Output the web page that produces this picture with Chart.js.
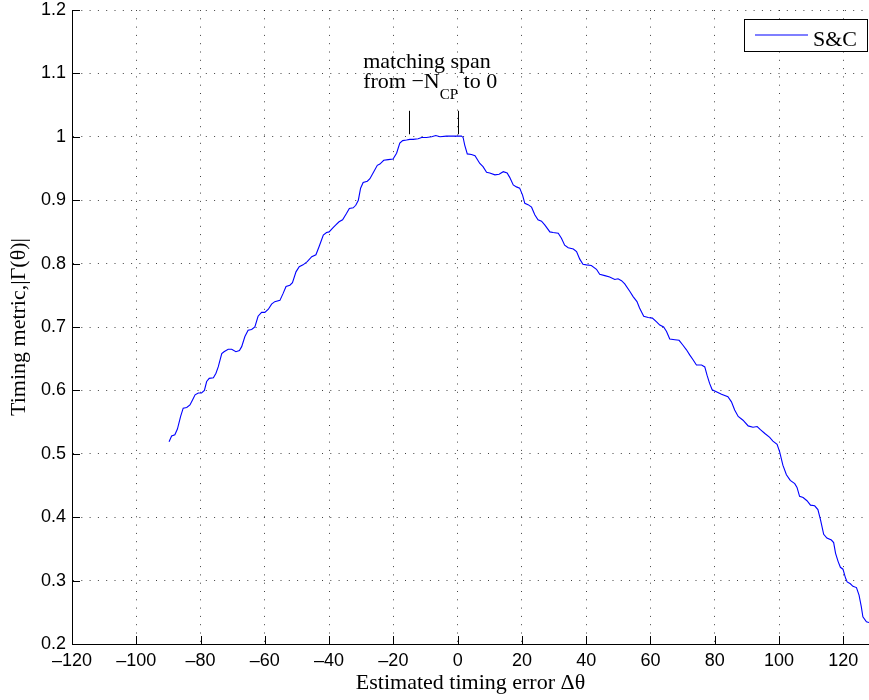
<!DOCTYPE html>
<html>
<head>
<meta charset="utf-8">
<title>Timing metric</title>
<script src="https://cdn.jsdelivr.net/npm/chart.js@4.4.1/dist/chart.umd.min.js"></script>
<style>
  html, body { margin: 0; padding: 0; background: #fff; }
  canvas { display: block; }
</style>
</head>
<body>
<canvas id="timing-chart" width="869" height="700"></canvas>
<script>
// timing error offsets and the S&C metric at each one
const errorX = [
  -89.8, -89.0, -88.0, -87.2, -86.2, -85.4, -84.3, -83.3, -82.5, -81.7,
  -80.7, -79.7, -78.8, -78.1, -77.3, -76.0, -75.2, -74.5, -73.4, -72.7,
  -71.4, -70.3, -69.0, -67.9, -67.2, -66.2, -65.2, -64.1, -63.1, -62.1,
  -61.0, -60.0, -58.9, -57.9, -56.9, -55.3, -54.3, -53.4, -52.2, -51.4,
  -50.3, -49.3, -48.1, -46.8, -45.4, -44.1, -43.1, -41.8, -40.8, -40.0,
  -38.9, -37.9, -36.9, -35.8, -34.6, -33.7, -32.5, -31.7, -30.9, -30.2,
  -29.4, -28.1, -27.3, -26.1, -25.0, -24.2, -23.0, -21.6, -20.1, -19.0,
  -18.0, -17.1, -15.9, -14.9, -13.8, -12.3, -11.2, -9.7, -8.1, -6.8,
  -5.5, -3.5, -1.4, 0.0, 1.2, 1.7, 2.2, 3.0, 4.3, 5.4,
  6.9, 7.9, 9.0, 10.0, 11.6, 12.9, 14.2, 15.4, 16.2, 17.3,
  18.3, 19.3, 20.2, 20.9, 21.9, 23.0, 24.0, 25.0, 26.1, 27.1,
  28.7, 29.7, 31.3, 32.3, 33.3, 34.4, 36.0, 37.0, 38.0, 39.0,
  40.1, 41.6, 43.2, 44.2, 45.8, 47.3, 48.9, 49.9, 51.0, 52.0,
  53.6, 54.6, 55.8, 56.6, 57.9, 59.3, 60.6, 61.9, 62.9, 64.1,
  65.0, 66.0, 67.6, 68.9, 70.0, 71.2, 72.2, 73.3, 74.3, 75.9,
  76.9, 77.6, 78.4, 79.2, 80.5, 82.1, 84.1, 85.2, 86.2, 87.3,
  88.8, 90.4, 91.9, 93.2, 94.2, 95.6, 97.1, 98.1, 99.4, 100.2,
  101.2, 102.3, 103.5, 104.9, 105.6, 106.4, 107.5, 108.7, 109.8, 111.1,
  112.1, 112.9, 113.9, 114.9, 116.3, 117.0, 117.6, 118.4, 119.1, 119.9,
  120.7, 121.2, 122.2, 123.0, 124.1, 124.9, 125.6, 126.1, 127.2, 128.0
];
const metricY = [
  0.519, 0.528, 0.530, 0.539, 0.559, 0.572, 0.573, 0.577, 0.585, 0.593,
  0.596, 0.596, 0.600, 0.614, 0.619, 0.620, 0.627, 0.637, 0.658, 0.661,
  0.665, 0.665, 0.661, 0.663, 0.669, 0.685, 0.695, 0.696, 0.700, 0.717,
  0.723, 0.723, 0.728, 0.736, 0.740, 0.742, 0.753, 0.764, 0.766, 0.770,
  0.787, 0.795, 0.798, 0.803, 0.811, 0.814, 0.827, 0.845, 0.849, 0.850,
  0.856, 0.861, 0.866, 0.869, 0.879, 0.887, 0.888, 0.892, 0.900, 0.919,
  0.928, 0.930, 0.934, 0.945, 0.955, 0.957, 0.963, 0.964, 0.965, 0.974,
  0.990, 0.994, 0.995, 0.996, 0.996, 0.997, 0.999, 0.999, 1.000, 1.002,
  1.000, 1.001, 1.001, 1.001, 1.001, 0.999, 0.987, 0.973, 0.972, 0.970,
  0.958, 0.953, 0.944, 0.943, 0.940, 0.941, 0.945, 0.943, 0.936, 0.924,
  0.921, 0.919, 0.908, 0.895, 0.893, 0.889, 0.877, 0.869, 0.867, 0.861,
  0.850, 0.849, 0.848, 0.840, 0.829, 0.825, 0.823, 0.819, 0.807, 0.799,
  0.798, 0.797, 0.791, 0.783, 0.781, 0.779, 0.775, 0.776, 0.773, 0.768,
  0.756, 0.748, 0.740, 0.730, 0.717, 0.715, 0.714, 0.708, 0.703, 0.700,
  0.693, 0.681, 0.680, 0.679, 0.672, 0.664, 0.656, 0.648, 0.640, 0.640,
  0.637, 0.624, 0.611, 0.601, 0.598, 0.594, 0.590, 0.582, 0.569, 0.559,
  0.553, 0.544, 0.542, 0.543, 0.538, 0.532, 0.526, 0.520, 0.515, 0.503,
  0.482, 0.467, 0.458, 0.453, 0.447, 0.433, 0.431, 0.426, 0.419, 0.418,
  0.412, 0.396, 0.373, 0.367, 0.364, 0.360, 0.343, 0.330, 0.321, 0.318,
  0.304, 0.298, 0.295, 0.291, 0.289, 0.277, 0.259, 0.243, 0.235, 0.234
];
const xTickValues = [-120, -100, -80, -60, -40, -20, 0, 20, 40, 60, 80, 100, 120];
const yTickValues = [0.2, 0.3, 0.4, 0.5, 0.6, 0.7, 0.8, 0.9, 1, 1.1, 1.2];
const seriesLabel = 'S&C';
const lineColor = '#0000ff';
// cyclic prefix matching span, marked above the plateau
const spanStart = -15;
const spanEnd = 0;

const SANS = '"Liberation Sans", Arial, sans-serif';
const SERIF = '"Liberation Serif", "Times New Roman", serif';

// matlab style ticks pointing into the axes
const inwardTicks = {
  id: 'inwardTicks',
  afterDraw(chart) {
    const { ctx, chartArea, scales } = chart;
    ctx.save();
    ctx.strokeStyle = '#000';
    ctx.lineWidth = 1;
    ctx.beginPath();
    scales.x.ticks.forEach(t => {
      const px = Math.round(scales.x.getPixelForValue(t.value)) + 0.5;
      ctx.moveTo(px, chartArea.bottom);
      ctx.lineTo(px, chartArea.bottom - 8);
    });
    scales.y.ticks.forEach(t => {
      const py = Math.round(scales.y.getPixelForValue(t.value)) + 0.5;
      ctx.moveTo(chartArea.left, py);
      ctx.lineTo(chartArea.left + 8, py);
    });
    ctx.stroke();
    ctx.restore();
  }
};

const spanNote = {
  id: 'spanNote',
  afterDatasetsDraw(chart) {
    const { ctx, scales: { x, y } } = chart;
    ctx.save();
    ctx.strokeStyle = '#000';
    ctx.lineWidth = 1;
    [spanStart, spanEnd].forEach(v => {
      const px = Math.round(x.getPixelForValue(v)) + 0.5;
      ctx.beginPath();
      ctx.moveTo(px, y.getPixelForValue(1.041));
      ctx.lineTo(px, y.getPixelForValue(1.004));
      ctx.stroke();
    });
    ctx.fillStyle = '#000';
    ctx.textBaseline = 'alphabetic';
    ctx.font = '22px ' + SERIF;
    const tx = x.getPixelForValue(-29.4);
    ctx.fillText('matching span', tx, y.getPixelForValue(1.108));
    const base = y.getPixelForValue(1.077);
    let cx = tx;
    ctx.fillText('from \u2212N', cx, base);
    cx += ctx.measureText('from \u2212N').width;
    ctx.font = '15px ' + SERIF;
    ctx.fillText('CP', cx, base + 10.6);
    cx += ctx.measureText('CP').width;
    ctx.font = '22px ' + SERIF;
    ctx.fillText(' to 0', cx, base);
    ctx.restore();
  }
};

const legendBox = {
  id: 'legendBox',
  afterDraw(chart) {
    const { ctx, chartArea } = chart;
    const w = 123, h = 32;
    const bx = chartArea.right - 2 - w;
    const by = chartArea.top + 9;
    ctx.save();
    ctx.setLineDash([]);
    ctx.fillStyle = '#fff';
    ctx.fillRect(bx, by, w, h);
    ctx.strokeStyle = '#000';
    ctx.lineWidth = 1;
    ctx.strokeRect(bx + 0.5, by + 0.5, w, h);
    // sample of the series line
    ctx.beginPath();
    ctx.strokeStyle = lineColor;
    ctx.lineWidth = 1.2;
    ctx.moveTo(bx + 11, by + 16);
    ctx.lineTo(bx + 64, by + 16);
    ctx.stroke();
    ctx.fillStyle = '#000';
    ctx.font = '22px ' + SERIF;
    ctx.textBaseline = 'alphabetic';
    ctx.fillText(seriesLabel, bx + 69, by + 26.5);
    ctx.restore();
  }
};

const gridStyle = { color: 'rgba(0,0,0,0.75)', lineWidth: 1, drawTicks: false };
const borderStyle = { display: true, color: '#000', width: 1, dash: [1, 7.3] };

// fixed axis boxes so the plot area sits where it should
const fitX = s => { s.height = 56; s.paddingLeft = 0; s.paddingRight = 0; };
const fitY = s => { s.width = 72; s.paddingTop = 0; s.paddingBottom = 0; };

const ctx = document.getElementById('timing-chart');
const chart = new Chart(ctx, {
  type: 'scatter',
  data: {
    datasets: [{
      label: seriesLabel,
      data: errorX.map((x, i) => ({ x, y: metricY[i] })),
      showLine: true,
      borderColor: lineColor,
      borderWidth: 1.1,
      pointRadius: 0,
      tension: 0,
      fill: false
    }]
  },
  options: {
    responsive: false,
    animation: false,
    devicePixelRatio: 1,
    layout: { padding: { top: 10, right: 0, bottom: 0, left: 0 } },
    plugins: { legend: { display: false }, tooltip: { enabled: false } },
    scales: {
      x: {
        type: 'linear',
        min: -120,
        max: 128,
        afterBuildTicks: s => { s.ticks = xTickValues.map(v => ({ value: v })); },
        afterFit: fitX,
        grid: gridStyle,
        border: borderStyle,
        ticks: {
          padding: 6,
          maxRotation: 0,
          color: '#000',
          font: { family: SANS, size: 18, lineHeight: 1.2 },
          callback: v => (v < 0 ? '\u2013' + Math.abs(v) : String(v))
        },
        title: {
          display: true,
          text: 'Estimated timing error \u0394\u03b8',
          color: '#000',
          font: { family: SERIF, size: 22, lineHeight: 1.2 },
          padding: { top: 0, bottom: 4 }
        }
      },
      y: {
        type: 'linear',
        min: 0.2,
        max: 1.2,
        afterBuildTicks: s => { s.ticks = yTickValues.map(v => ({ value: v })); },
        afterFit: fitY,
        grid: gridStyle,
        border: borderStyle,
        ticks: {
          padding: 6,
          color: '#000',
          font: { family: SANS, size: 18, lineHeight: 1 },
          callback: v => String(+v.toFixed(1))
        },
        title: {
          display: true,
          text: 'Timing metric,|\u0393(\u03b8)|',
          color: '#000',
          font: { family: SERIF, size: 22, lineHeight: 1.2 },
          padding: { top: 6, bottom: 0 }
        }
      }
    }
  },
  plugins: [inwardTicks, spanNote, legendBox]
});
</script>
</body>
</html>
